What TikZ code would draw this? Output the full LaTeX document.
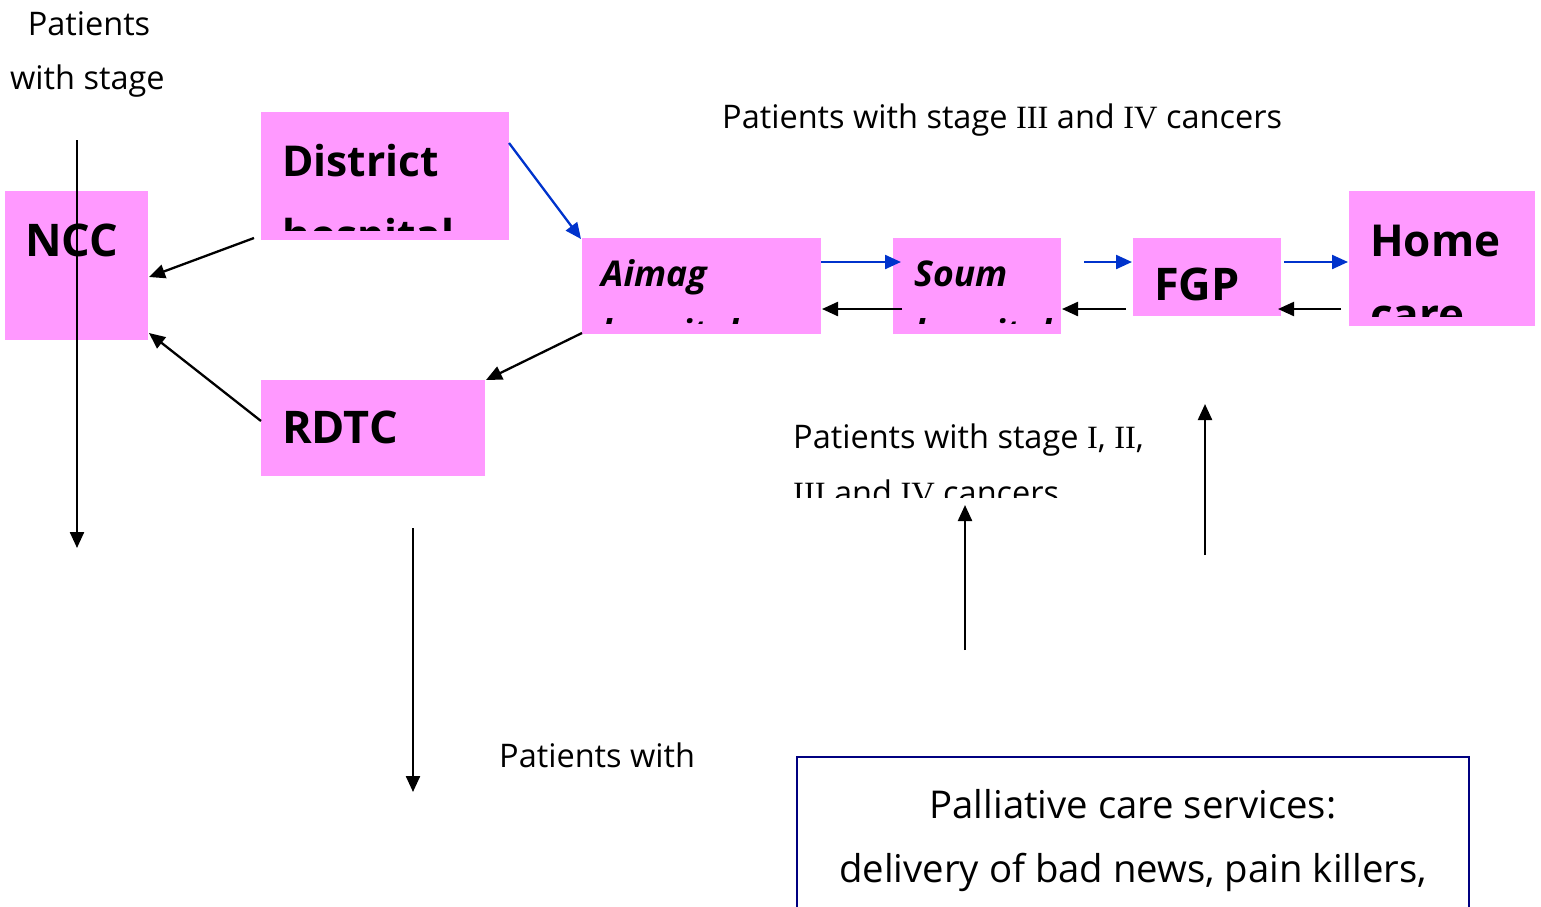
\documentclass[tikz,border=0pt]{standalone}
\usepackage{fontspec}
\setmainfont{Open Sans}
\newfontfamily\romf{Liberation Serif}
\usetikzlibrary{arrows.meta}
\definecolor{boxpink}{RGB}{255,153,255}
\definecolor{arrblue}{RGB}{0,51,204}
\definecolor{navyline}{RGB}{0,0,128}
\tikzset{
  pinkbox/.style={fill=boxpink, draw=none, inner sep=0pt, outer sep=0pt},
  boxlabel/.style={anchor=base west, inner sep=0pt, font=\fontsize{45}{52}\selectfont\bfseries},
  itlabel/.style={anchor=base west, inner sep=0pt, font=\fontsize{35.5}{42}\selectfont\bfseries\itshape},
  plain/.style={anchor=base west, inner sep=0pt, font=\fontsize{32.5}{38}\selectfont},
  bigplain/.style={anchor=base, inner sep=0pt, font=\fontsize{38.3}{45}\selectfont},
  blk/.style={draw=black, line width=2.3pt, -{Triangle[length=16pt,width=14pt]}},
  blu/.style={draw=arrblue, line width=2.3pt, -{Triangle[length=16pt,width=14pt]}},
}
\newcommand{\rn}[1]{{\romf #1}}
\begin{document}
\begin{tikzpicture}[x=1pt,y=-1pt]
\useasboundingbox (0,0) rectangle (1541,906);

% boxes
\node[pinkbox, minimum width=143pt, minimum height=149pt] (ncc) at (76.5,265.5) {};
\node[pinkbox, minimum width=248pt, minimum height=128pt] (dist) at (385,176) {};
\node[pinkbox, minimum width=239pt, minimum height=96pt] (aimag) at (701.5,286) {};
\node[pinkbox, minimum width=168pt, minimum height=96pt] (soum) at (977,286) {};
\node[pinkbox, minimum width=148pt, minimum height=78pt] (fgp) at (1207,277) {};
\node[pinkbox, minimum width=186pt, minimum height=135pt] (home) at (1442,258.5) {};
\node[pinkbox, minimum width=224pt, minimum height=96pt] (rdtc) at (373,428) {};
\node[draw=navyline, line width=1.5pt, inner sep=0pt, minimum width=672pt, minimum height=170pt] (pall) at (1133,842) {};

% box labels
\node[boxlabel] (nccT) at (25,256) {NCC};
\node[boxlabel, font=\fontsize{42.5}{50}\selectfont\bfseries] (distT) at (282,176) {District};
\begin{scope}
  \clip (261,112) rectangle (509,230);
  \node[boxlabel, font=\fontsize{42.5}{50}\selectfont\bfseries] (distT2) at (282,250) {hospital};
\end{scope}
\node[itlabel] (aimagT) at (601,286) {Aimag};
\begin{scope}
  \clip (582,238) rectangle (821,323);
  \node[itlabel] (aimagT2) at (601,345) {hospital};
\end{scope}
\node[itlabel] (soumT) at (914,286) {Soum};
\begin{scope}
  \clip (893,238) rectangle (1061,323);
  \node[itlabel] (soumT2) at (914,345) {hospital};
\end{scope}
\node[boxlabel] (fgpT) at (1154,300) {FGP};
\node[boxlabel, font=\fontsize{44}{52}\selectfont\bfseries] (homeT) at (1370,256) {Home};
\begin{scope}
  \clip (1349,191) rectangle (1535,316);
  \node[boxlabel, font=\fontsize{44}{52}\selectfont\bfseries] (homeT2) at (1370,330) {care};
\end{scope}
\node[boxlabel] (rdtcT) at (282,443) {RDTC};

% free texts
\node[plain, anchor=base] (t1a) at (89,35) {Patients};
\node[plain] (t1b) at (10,89) {with stage};
\node[plain] (t2) at (722,128) {Patients with stage \rn{III} and \rn{IV} cancers};
\node[plain] (t3a) at (793,448) {Patients with stage \rn{I}, \rn{II},};
\begin{scope}
  \clip (780,455) rectangle (1200,497);
  \node[plain] (t3b) at (793,504) {\rn{III} and \rn{IV} cancers};
\end{scope}
\node[plain] (t4) at (499,767) {Patients with};
\node[bigplain] (p1) at (1133,818) {Palliative care services:};
\node[bigplain] (p2) at (1133,882) {delivery of bad news, pain killers,};

% coordinates for connector ends
\coordinate (v1s) at (77,140);  \coordinate (v1e) at (77,548);
\coordinate (v2s) at (413,528); \coordinate (v2e) at (413,792);
\coordinate (v3s) at (965,650); \coordinate (v3e) at (965,505);
\coordinate (v4s) at (1205,555); \coordinate (v4e) at (1205,404);
\coordinate (dn) at (254,238); \coordinate (ncc1) at (149,277);
\coordinate (rn) at (261,421); \coordinate (ncc2) at (149,333);
\coordinate (da) at (509,143); \coordinate (aim1) at (581,239);
\coordinate (ar) at (582,333); \coordinate (rd1) at (486,380);
\coordinate (as1) at (821,262); \coordinate (so1) at (901,262);
\coordinate (sa1) at (902,309); \coordinate (ai2) at (822,309);
\coordinate (sf1) at (1084,262); \coordinate (fg1) at (1132,262);
\coordinate (fs1) at (1126,309); \coordinate (so2) at (1062,309);
\coordinate (fh1) at (1284,262); \coordinate (ho1) at (1348,262);
\coordinate (hf1) at (1341,309); \coordinate (fg2) at (1278,309);

% connectors
\draw[blk] (v1s) -- (v1e);
\draw[blk] (v2s) -- (v2e);
\draw[blk] (v3s) -- (v3e);
\draw[blk] (v4s) -- (v4e);
\draw[blk] (dn) -- (ncc1);
\draw[blk] (rn) -- (ncc2);
\draw[blu] (da) -- (aim1);
\draw[blk] (ar) -- (rd1);
\draw[blu] (as1) -- (so1);
\draw[blk] (sa1) -- (ai2);
\draw[blu] (sf1) -- (fg1);
\draw[blk] (fs1) -- (so2);
\draw[blu] (fh1) -- (ho1);
\draw[blk] (hf1) -- (fg2);
\end{tikzpicture}
\end{document}
